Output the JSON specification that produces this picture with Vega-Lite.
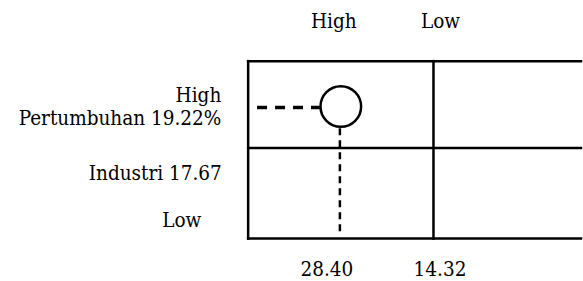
{
  "$schema": "https://vega.github.io/schema/vega-lite/v6.json",
  "width": 583,
  "height": 281,
  "padding": 0,
  "autosize": {"type": "fit", "contains": "padding"},
  "background": "white",
  "config": {"view": {"stroke": null}},
  "datasets": {
    "solid": [
      {"part": "top", "x": 0, "x2": 1.796, "y": 2.0, "y2": 2.0},
      {"part": "bottom", "x": 0, "x2": 1.796, "y": 0, "y2": 0},
      {"part": "left", "x": 0, "x2": 0, "y": 0, "y2": 2.0},
      {"part": "divider", "x": 1, "x2": 1, "y": 0, "y2": 2.0},
      {"part": "middle", "x": 0, "x2": 1.796, "y": 1.022, "y2": 1.022}
    ],
    "hdash": [{"x": 0.048, "x2": 0.387, "y": 1.478, "y2": 1.478}],
    "vdash": [{"x": 0.495, "x2": 0.495, "y": 1.244, "y2": 0.033}],
    "point": [{"share": 0.5, "growth": 1.489}],
    "rightLabels": [
      {"label": "High", "x": -0.145, "y": 1.608},
      {"label": "Pertumbuhan 19.22%", "x": -0.145, "y": 1.353},
      {"label": "Industri 17.67", "x": -0.142, "y": 0.731}
    ],
    "centerLabels": [
      {"label": "High", "x": 0.462, "y": 2.442},
      {"label": "Low", "x": 1.038, "y": 2.442},
      {"label": "Low", "x": -0.358, "y": 0.197},
      {"label": "28.40", "x": 0.425, "y": -0.358},
      {"label": "14.32", "x": 1.035, "y": -0.358}
    ]
  },
  "layer": [
    {
      "data": {"name": "solid"},
      "mark": {"type": "rule", "color": "black", "strokeWidth": 2.5, "strokeCap": "square"},
      "encoding": {
        "x": {"field": "x", "type": "quantitative", "scale": {"domain": [-1.339, 1.796], "nice": false, "zero": false}, "axis": null},
        "x2": {"field": "x2"},
        "y": {"field": "y", "type": "quantitative", "scale": {"domain": [-0.433, 2.689], "nice": false, "zero": false}, "axis": null},
        "y2": {"field": "y2"}
      }
    },
    {
      "data": {"name": "hdash"},
      "mark": {"type": "rule", "color": "black", "strokeWidth": 3.5, "strokeDash": [10, 8]},
      "encoding": {
        "x": {"field": "x", "type": "quantitative"},
        "x2": {"field": "x2"},
        "y": {"field": "y", "type": "quantitative"},
        "y2": {"field": "y2"}
      }
    },
    {
      "data": {"name": "vdash"},
      "mark": {"type": "rule", "color": "black", "strokeWidth": 2.5, "strokeDash": [7, 5]},
      "encoding": {
        "x": {"field": "x", "type": "quantitative"},
        "x2": {"field": "x2"},
        "y": {"field": "y", "type": "quantitative"},
        "y2": {"field": "y2"}
      }
    },
    {
      "data": {"name": "point"},
      "mark": {"type": "point", "shape": "circle", "filled": false, "fill": "white", "fillOpacity": 1, "stroke": "black", "strokeWidth": 2.5, "opacity": 1, "size": 1650},
      "encoding": {
        "x": {"field": "share", "type": "quantitative"},
        "y": {"field": "growth", "type": "quantitative"}
      }
    },
    {
      "data": {"name": "rightLabels"},
      "mark": {"type": "text", "align": "right", "baseline": "middle", "font": "DejaVu Serif Condensed, DejaVu Serif", "fontSize": 20.5, "color": "black"},
      "encoding": {
        "x": {"field": "x", "type": "quantitative"},
        "y": {"field": "y", "type": "quantitative"},
        "text": {"field": "label", "type": "nominal"}
      }
    },
    {
      "data": {"name": "centerLabels"},
      "mark": {"type": "text", "align": "center", "baseline": "middle", "font": "DejaVu Serif Condensed, DejaVu Serif", "fontSize": 20.5, "color": "black"},
      "encoding": {
        "x": {"field": "x", "type": "quantitative"},
        "y": {"field": "y", "type": "quantitative"},
        "text": {"field": "label", "type": "nominal"}
      }
    }
  ]
}
